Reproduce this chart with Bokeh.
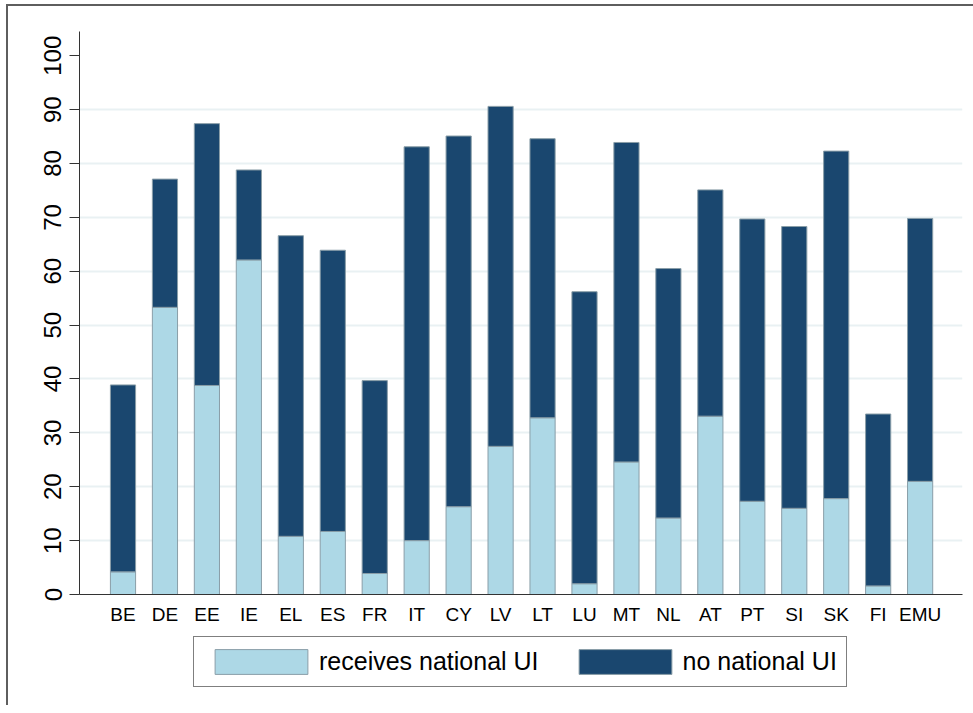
from bokeh.plotting import figure
from bokeh.layouts import column
from bokeh.models import Range1d, FixedTicker, Legend, LegendItem, ColumnDataSource
from bokeh.embed import file_html
from bokeh.resources import INLINE

countries = ["BE", "DE", "EE", "IE", "EL", "ES", "FR", "IT", "CY", "LV",
             "LT", "LU", "MT", "NL", "AT", "PT", "SI", "SK", "FI", "EMU"]
receives_ui = [4.2, 53.3, 38.8, 62.1, 10.8, 11.7, 3.9, 10.0, 16.3, 27.5,
               32.8, 2.0, 24.6, 14.2, 33.1, 17.3, 16.0, 17.8, 1.6, 21.0]
total_share = [38.9, 77.1, 87.4, 78.8, 66.6, 63.9, 39.7, 83.1, 85.1, 90.6,
               84.6, 56.2, 83.9, 60.5, 75.1, 69.7, 68.3, 82.3, 33.5, 69.8]
y_ticks = [0, 10, 20, 30, 40, 50, 60, 70, 80, 90, 100]
grid_ticks = [10, 20, 30, 40, 50, 60, 70, 80, 90]
series_labels = ["receives national UI", "no national UI"]

FONT = "Liberation Sans"
LIGHT = "#add8e6"
DARK = "#1a476f"
EDGE = "#8a9ea8"

xs = list(range(len(countries)))
src = ColumnDataSource(dict(x=xs, rec=receives_ui, tot=total_share))

p = figure(frame_width=883, frame_height=563, output_backend="svg", toolbar_location=None,
           x_range=Range1d(-1.037, 20.01), y_range=Range1d(0, 104.5),
           min_border_left=71, min_border_top=25, min_border_right=11,
           min_border_bottom=35)
p.outline_line_color = None
p.background_fill_color = "white"
p.border_fill_color = "white"

p.vbar(x="x", bottom=0, top="rec", width=0.6, source=src,
       fill_color=LIGHT, line_color=EDGE, line_width=1)
p.vbar(x="x", bottom="rec", top="tot", width=0.6, source=src,
       fill_color=DARK, line_color=EDGE, line_width=1)

# axes
p.xaxis.ticker = FixedTicker(ticks=xs)
p.xaxis.major_label_overrides = {i: c for i, c in enumerate(countries)}
p.xaxis.major_tick_line_color = None
p.xaxis.minor_tick_line_color = None
p.xaxis.axis_line_color = "#333333"
p.xaxis.major_label_text_font = FONT
p.xaxis.major_label_text_font_size = "19px"
p.xaxis.major_label_text_color = "black"
p.xaxis.major_label_standoff = 3

p.yaxis.ticker = FixedTicker(ticks=y_ticks)
p.yaxis.minor_tick_line_color = None
p.yaxis.major_tick_out = 10
p.yaxis.major_tick_in = 0
p.yaxis.axis_line_color = "#333333"
p.yaxis.major_tick_line_color = "#333333"
p.yaxis.major_label_orientation = "vertical"
p.yaxis.major_label_text_font = FONT
p.yaxis.major_label_text_font_size = "24px"
p.yaxis.major_label_text_color = "black"
p.yaxis.major_label_standoff = 8

p.xgrid.grid_line_color = None
p.ygrid.ticker = FixedTicker(ticks=grid_ticks)
p.ygrid.grid_line_color = "#e9f1f3"
p.ygrid.grid_line_width = 2

# legend strip below the chart (key glyphs share the data; their bars lie outside this strip's range)
lg = figure(frame_width=883, frame_height=76, output_backend="svg", toolbar_location=None,
            x_range=Range1d(-1.037, 20.01), y_range=Range1d(500, 600),
            min_border_left=71, min_border_right=11, min_border_top=0, min_border_bottom=0)
lg.axis.visible = False
lg.grid.visible = False
lg.outline_line_color = None
lg.border_fill_color = "white"
k1 = lg.vbar(x="x", bottom=0, top="rec", width=0.6, source=src,
             fill_color=LIGHT, line_color=EDGE, line_width=1)
k2 = lg.vbar(x="x", bottom="rec", top="tot", width=0.6, source=src,
             fill_color=DARK, line_color=EDGE, line_width=1)

legend = Legend(items=[LegendItem(label=series_labels[0], renderers=[k1], index=0),
                       LegendItem(label=series_labels[1], renderers=[k2], index=0)],
                orientation="horizontal", location=(114, 18))
legend.label_text_font = FONT
legend.label_text_font_size = "25px"
legend.label_text_color = "black"
legend.glyph_width = 116
legend.glyph_height = 31
legend.label_height = 31
legend.label_standoff = -5
legend.spacing = 28
legend.padding = 9
legend.margin = 0
legend.border_line_color = "black"
legend.border_line_width = 1
legend.background_fill_alpha = 1
lg.add_layout(legend, "center")

layout = column(p, lg, spacing=0)
layout.styles = {"border-left": "2px solid #5e5e5e", "border-top": "2px solid #5e5e5e",
                 "margin-left": "6px", "margin-top": "4px"}

open("out.html", "w").write(file_html(layout, INLINE))
